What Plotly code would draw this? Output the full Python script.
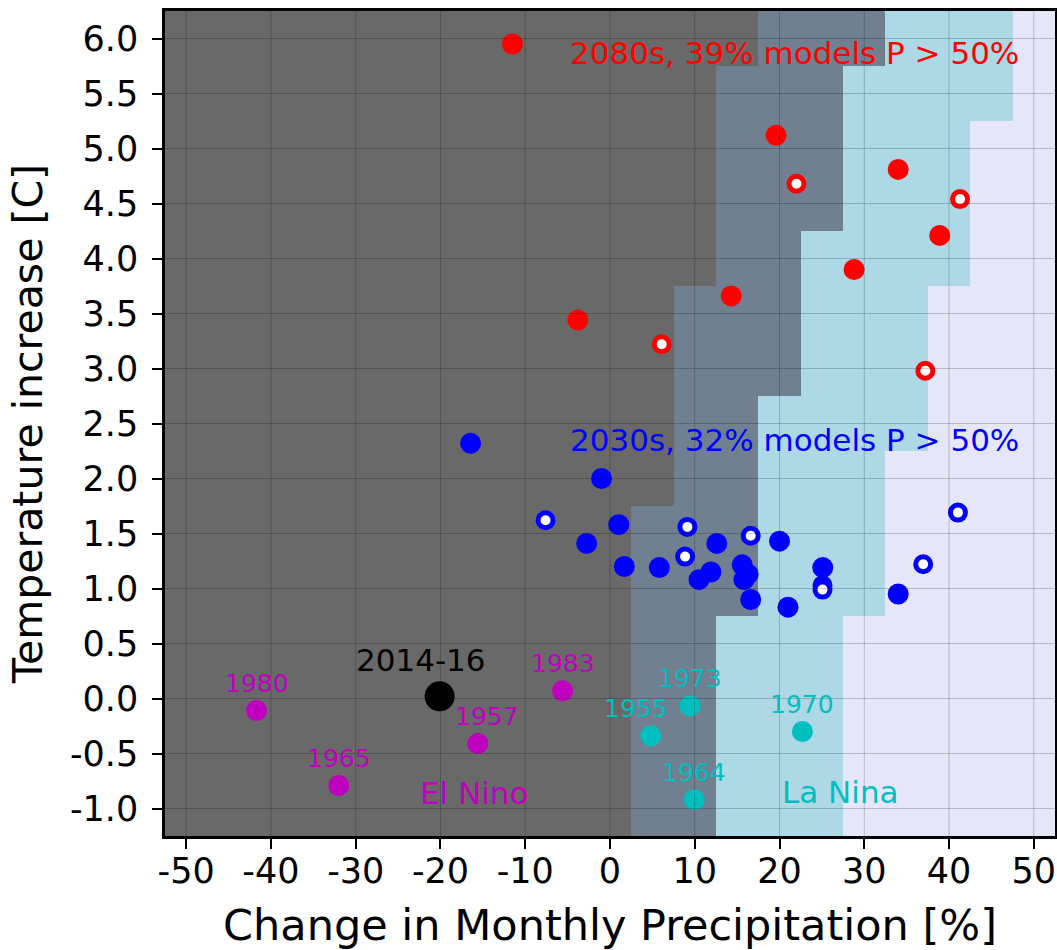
import plotly.graph_objects as go

# ---------------- data ----------------
# background probability zones (grid of precip x temperature cells)
precip_centers = [-50, -45, -40, -35, -30, -25, -20, -15, -10, -5, 0,
                  5, 10, 15, 20, 25, 30, 35, 40, 45, 50]
temp_centers = [-1.0, -0.5, 0.0, 0.5, 1.0, 1.5, 2.0, 2.5, 3.0, 3.5,
                4.0, 4.5, 5.0, 5.5, 6.0]
# precipitation (%) at which each successive zone begins, per temperature row
zone1_start = [2.5, 2.5, 2.5, 2.5, 2.5, 2.5, 7.5, 7.5, 7.5, 7.5,
               12.5, 12.5, 12.5, 12.5, 17.5]
zone2_start = [12.5, 12.5, 12.5, 12.5, 17.5, 17.5, 17.5, 17.5, 22.5, 22.5,
               22.5, 27.5, 27.5, 27.5, 32.5]
zone3_start = [27.5, 27.5, 27.5, 27.5, 32.5, 32.5, 32.5, 37.5, 37.5, 37.5,
               42.5, 42.5, 42.5, 47.5, 47.5]
zone_colors = ["#696969", "#708090", "#ADD8E6", "#E6E6FA"]

# 2080s model projections
m2080_x = [-11.5, 19.6, 34.0, 38.9, 28.8, 14.3, -3.8]
m2080_y = [5.95, 5.12, 4.81, 4.21, 3.90, 3.66, 3.44]
m2080_open_x = [22.0, 41.3, 6.1, 37.2]
m2080_open_y = [4.68, 4.54, 3.22, 2.98]

# 2030s model projections
m2030_x = [-16.45, -1.0, -2.75, 1.03, 1.69, 5.82, 12.6, 10.5, 11.9, 15.6,
           16.3, 15.8, 16.6, 20.0, 21.0, 25.1, 34.0]
m2030_y = [2.32, 2.0, 1.41, 1.58, 1.20, 1.19, 1.41, 1.08, 1.15, 1.215,
           1.13, 1.08, 0.90, 1.43, 0.83, 1.19, 0.95]
m2030_open_x = [-7.6, 9.13, 8.86, 16.6, 25.07, 25.07, 36.95, 41.05]
m2030_open_y = [1.62, 1.56, 1.29, 1.48, 1.03, 0.99, 1.22, 1.69]

# observed El Nino / La Nina years
elnino_years = ["1980", "1965", "1957", "1983"]
elnino_x = [-41.7, -32.0, -15.6, -5.6]
elnino_y = [-0.11, -0.79, -0.41, 0.07]
lanina_years = ["1955", "1973", "1964", "1970"]
lanina_x = [4.8, 9.45, 9.95, 22.7]
lanina_y = [-0.34, -0.066, -0.92, -0.30]
recent_label = "2014-16"
recent_x = [-20.1]
recent_y = [0.02]

x_ticks = [-50, -40, -30, -20, -10, 0, 10, 20, 30, 40, 50]
y_ticks = [-1.0, -0.5, 0.0, 0.5, 1.0, 1.5, 2.0, 2.5, 3.0, 3.5, 4.0, 4.5, 5.0, 5.5, 6.0]

# ---------------- figure ----------------
FONT = "DejaVu Sans"
RED = "#FF0000"
BLUE = "#0000FF"
MAG = "#BF00BF"
CYAN = "#00BFBF"

z = []
for i in range(len(temp_centers)):
    row = []
    for p in precip_centers:
        row.append(sum(p > e for e in (zone1_start[i], zone2_start[i], zone3_start[i])))
    z.append(row)

fig = go.Figure()
fig.add_trace(go.Heatmap(
    x=precip_centers, y=temp_centers, z=z, zmin=0, zmax=3,
    colorscale=[[0, zone_colors[0]], [1/3, zone_colors[1]],
                [2/3, zone_colors[2]], [1, zone_colors[3]]],
    showscale=False, hoverinfo="skip"))


def filled(x, y, color, size=21):
    return go.Scatter(x=x, y=y, mode="markers", showlegend=False,
                      marker=dict(size=size, color=color, line=dict(width=0)))


def hollow(x, y, color):
    return go.Scatter(x=x, y=y, mode="markers", showlegend=False,
                      marker=dict(size=15, color="white", line=dict(width=5, color=color)))


fig.add_trace(filled(m2080_x, m2080_y, RED))
fig.add_trace(hollow(m2080_open_x, m2080_open_y, RED))
fig.add_trace(filled(m2030_x, m2030_y, BLUE))
fig.add_trace(hollow(m2030_open_x, m2030_open_y, BLUE))
fig.add_trace(filled(elnino_x, elnino_y, MAG))
fig.add_trace(filled(lanina_x, lanina_y, CYAN))
fig.add_trace(filled(recent_x, recent_y, "black", size=30))

# gridlines drawn above the background zones (and markers), as in the original
for t in x_ticks:
    fig.add_shape(type="line", xref="x", yref="y domain", x0=t, x1=t, y0=0, y1=1,
                  line=dict(color="rgba(0,0,0,0.2)", width=1), layer="above")
for t in y_ticks:
    fig.add_shape(type="line", xref="x domain", yref="y", x0=0, x1=1, y0=t, y1=t,
                  line=dict(color="rgba(0,0,0,0.2)", width=1), layer="above")

# year labels
label_xshift = {"1957": 9, "1955": -15}
for yrs, xs, ys, col in ((elnino_years, elnino_x, elnino_y, MAG),
                         (lanina_years, lanina_x, lanina_y, CYAN)):
    for lab, xv, yv in zip(yrs, xs, ys):
        fig.add_annotation(x=xv, y=yv, text=lab, showarrow=False,
                           xanchor="center", yanchor="middle",
                           xshift=label_xshift.get(lab, 0), yshift=27,
                           font=dict(family=FONT, size=25, color=col))
fig.add_annotation(x=recent_x[0], y=recent_y[0], text=recent_label, showarrow=False,
                   xanchor="center", yanchor="middle", xshift=-19, yshift=36,
                   font=dict(family=FONT, size=31, color="black"))

fig.add_annotation(x=-5, y=5.87, text="2080s, 39% models P > 50%", showarrow=False,
                   xanchor="left", yanchor="middle",
                   font=dict(family=FONT, size=31, color=RED))
fig.add_annotation(x=-5, y=2.35, text="2030s, 32% models P > 50%", showarrow=False,
                   xanchor="left", yanchor="middle",
                   font=dict(family=FONT, size=31, color=BLUE))
fig.add_annotation(x=-22.7, y=-0.857, text="El Nino", showarrow=False,
                   xanchor="left", yanchor="middle",
                   font=dict(family=FONT, size=31, color=MAG))
fig.add_annotation(x=20.0, y=-0.85, text="La Nina", showarrow=False,
                   xanchor="left", yanchor="middle",
                   font=dict(family=FONT, size=31, color=CYAN))

axis_common = dict(showline=True, mirror=True, linecolor="black", linewidth=2.5,
                   ticks="outside", ticklen=10, tickwidth=2, tickcolor="black",
                   showgrid=False, zeroline=False,
                   tickfont=dict(family=FONT, size=35, color="black"))

fig.update_xaxes(range=[-52.5, 52.5], tickvals=x_ticks,
                 ticktext=[f"{t:d}" for t in x_ticks],
                 title=dict(text="Change in Monthly Precipitation [%]",
                            font=dict(family=FONT, size=43, color="black"), standoff=26),
                 ticklabelstandoff=-8, **axis_common)
fig.update_yaxes(range=[-1.25, 6.25], tickvals=y_ticks,
                 ticktext=[f"{t:.1f}" for t in y_ticks],
                 title=dict(text="Temperature increase [C]",
                            font=dict(family=FONT, size=41, color="black"), standoff=15),
                 ticklabelstandoff=7, **axis_common)

fig.update_layout(width=1057, height=950,
                  margin=dict(l=165, r=2, t=11, b=114, autoexpand=False),
                  paper_bgcolor="white", plot_bgcolor="white",
                  font=dict(family=FONT), showlegend=False)

fig.write_html("out.html")
